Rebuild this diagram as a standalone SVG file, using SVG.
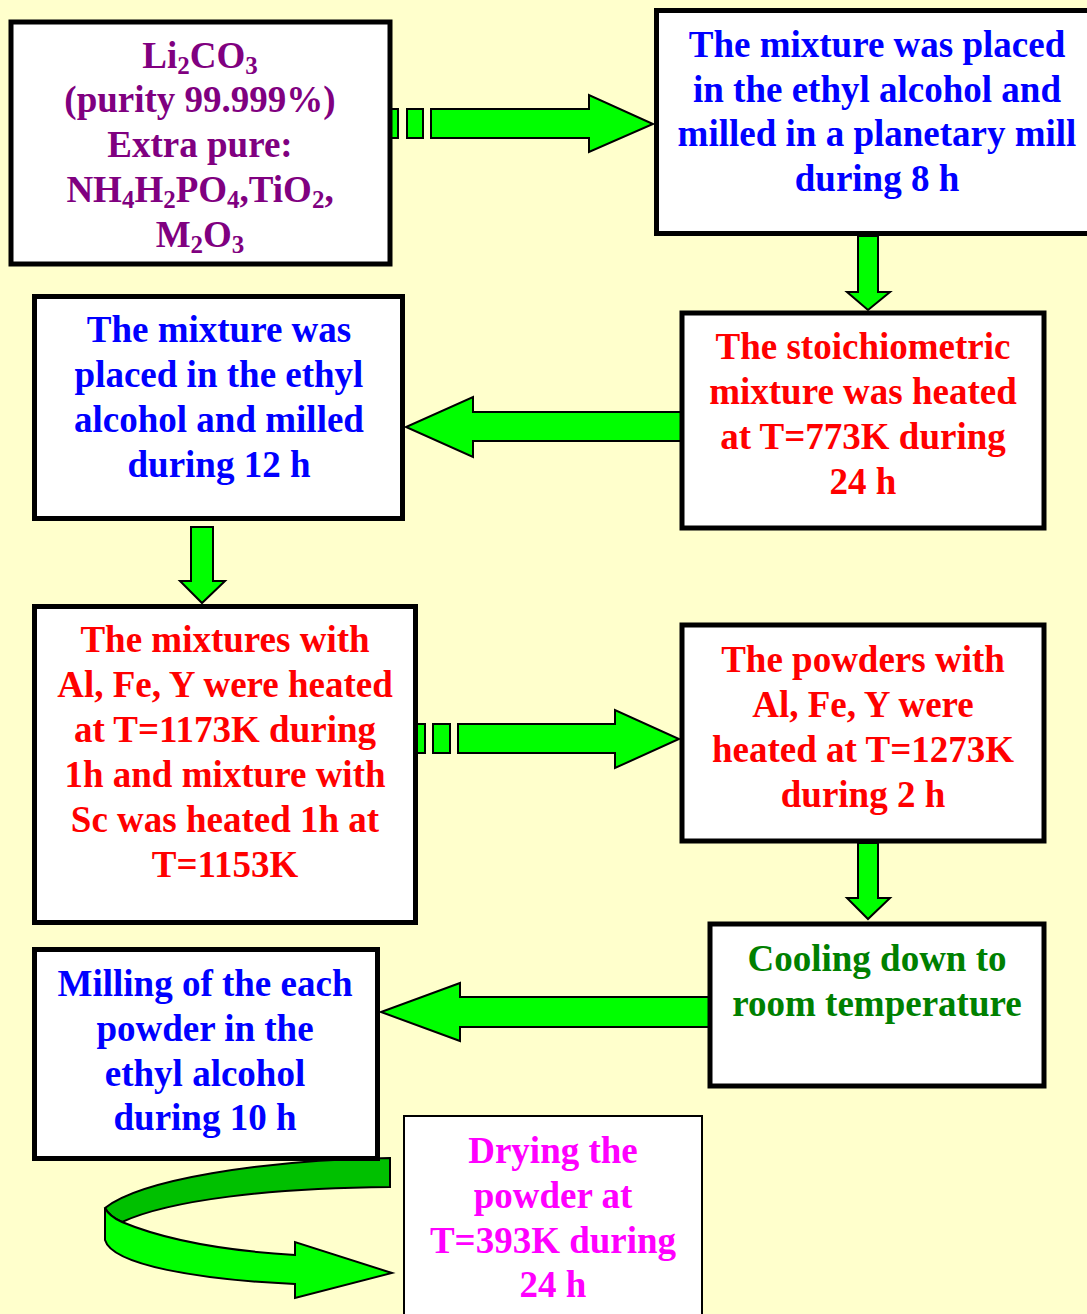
<svg xmlns="http://www.w3.org/2000/svg" width="1087" height="1314" viewBox="0 0 1087 1314">
<style>
.box{fill:#fff;stroke:#000;stroke-width:5}
.thin{fill:#fff;stroke:#000;stroke-width:2}
text{font-family:"Liberation Serif","Times New Roman",serif;font-weight:bold;font-size:37px;text-anchor:middle}
.purple{fill:#800080}.blue{fill:#0000FF}.red{fill:#FF0000}.green{fill:#008000}.mag{fill:#FF00FF}
.arr{fill:#00FF00;stroke:#000;stroke-width:2;stroke-linejoin:miter}
.dark{fill:#00C000;stroke:#000;stroke-width:2}
.sub{font-size:25px}
</style>
<rect width="1087" height="1314" fill="#FFFFCC"/>
<g id="connectors">
  <rect class="arr" x="391" y="109" width="7" height="29"/>
  <rect class="arr" x="407" y="109" width="16" height="29"/>
  <polygon class="arr" points="431,109 589,109 589,95 653,124 589,152 589,138 431,138"/>
  <polygon class="arr" points="858,236 878,236 878,292 890,292 868,310 847,292 858,292"/>
  <polygon class="arr" points="683,412 473,412 473,397 406,427 473,457 473,441 683,441"/>
  <polygon class="arr" points="191,527 213,527 213,581 225,581 202,603 180,581 191,581"/>
  <rect class="arr" x="417" y="724" width="8" height="29"/>
  <rect class="arr" x="433" y="724" width="17" height="29"/>
  <polygon class="arr" points="458,724 615,724 615,710 679,739 615,768 615,753 458,753"/>
  <polygon class="arr" points="858,843 878,843 878,898 890,898 868,919 847,898 858,898"/>
  <polygon class="arr" points="710,997 460,997 460,983 381,1012 460,1041 460,1027 710,1027"/>
  <path class="dark" d="M390,1158 C260,1160 140,1180 105,1208 C108,1214 113,1218 122,1222 C170,1200 270,1188 390,1187 Z"/>
  <path class="arr" d="M105,1208 C108,1214 113,1218 122,1222 C170,1242 230,1251 295,1255 L295,1242 L392,1273 L295,1298 L295,1284 C200,1280 112,1265 105,1240 Z"/>
</g>
<g id="n1">
  <rect class="box" x="11" y="22" width="379" height="242"/>
  <text class="purple" x="200" y="68">Li<tspan class="sub" dy="6">2</tspan><tspan dy="-6">CO</tspan><tspan class="sub" dy="6">3</tspan></text>
  <text class="purple" x="200" y="112">(purity 99.999%)</text>
  <text class="purple" x="200" y="157">Extra pure:</text>
  <text class="purple" x="200" y="202">NH<tspan class="sub" dy="6">4</tspan><tspan dy="-6">H</tspan><tspan class="sub" dy="6">2</tspan><tspan dy="-6">PO</tspan><tspan class="sub" dy="6">4</tspan><tspan dy="-6">,TiO</tspan><tspan class="sub" dy="6">2</tspan><tspan dy="-6">,</tspan></text>
  <text class="purple" x="200" y="247">M<tspan class="sub" dy="6">2</tspan><tspan dy="-6">O</tspan><tspan class="sub" dy="6">3</tspan></text>
</g>
<g id="n2">
  <rect class="box" x="656.5" y="10.5" width="450" height="223"/>
  <text class="blue" x="877" y="57">The mixture was placed</text>
  <text class="blue" x="877" y="102">in the ethyl alcohol and</text>
  <text class="blue" x="877" y="146">milled in a planetary mill</text>
  <text class="blue" x="877" y="191">during 8 h</text>
</g>
<g id="n3">
  <rect class="box" x="682" y="313" width="362" height="215"/>
  <text class="red" x="863" y="359">The stoichiometric</text>
  <text class="red" x="863" y="404">mixture was heated</text>
  <text class="red" x="863" y="449">at T=773K during</text>
  <text class="red" x="863" y="494">24 h</text>
</g>
<g id="n4">
  <rect class="box" x="34.5" y="296.5" width="368" height="222"/>
  <text class="blue" x="219" y="342">The mixture was</text>
  <text class="blue" x="219" y="387">placed in the ethyl</text>
  <text class="blue" x="219" y="432">alcohol and milled</text>
  <text class="blue" x="219" y="477">during 12 h</text>
</g>
<g id="n5">
  <rect class="box" x="34.5" y="606.5" width="381" height="316"/>
  <text class="red" x="225" y="652">The mixtures with</text>
  <text class="red" x="225" y="697">Al, Fe, Y were heated</text>
  <text class="red" x="225" y="742">at T=1173K during</text>
  <text class="red" x="225" y="787">1h and mixture with</text>
  <text class="red" x="225" y="832">Sc was heated 1h at</text>
  <text class="red" x="225" y="877">T=1153K</text>
</g>
<g id="n6">
  <rect class="box" x="682" y="625" width="362" height="216"/>
  <text class="red" x="863" y="672">The powders with</text>
  <text class="red" x="863" y="717">Al, Fe, Y were</text>
  <text class="red" x="863" y="762">heated at T=1273K</text>
  <text class="red" x="863" y="807">during 2 h</text>
</g>
<g id="n7">
  <rect class="box" x="710" y="924" width="334" height="162"/>
  <text class="green" x="877" y="971">Cooling down to</text>
  <text class="green" x="877" y="1016">room temperature</text>
</g>
<g id="n8">
  <rect class="box" x="34.5" y="949.5" width="343" height="209"/>
  <text class="blue" x="205" y="996">Milling of the each</text>
  <text class="blue" x="205" y="1041">powder in the</text>
  <text class="blue" x="205" y="1086">ethyl alcohol</text>
  <text class="blue" x="205" y="1130">during 10 h</text>
</g>
<g id="n9">
  <rect class="thin" x="404" y="1116" width="298" height="200"/>
  <text class="mag" x="553" y="1163">Drying the</text>
  <text class="mag" x="553" y="1208">powder at</text>
  <text class="mag" x="553" y="1253">T=393K during</text>
  <text class="mag" x="553" y="1297">24 h</text>
</g>
</svg>
